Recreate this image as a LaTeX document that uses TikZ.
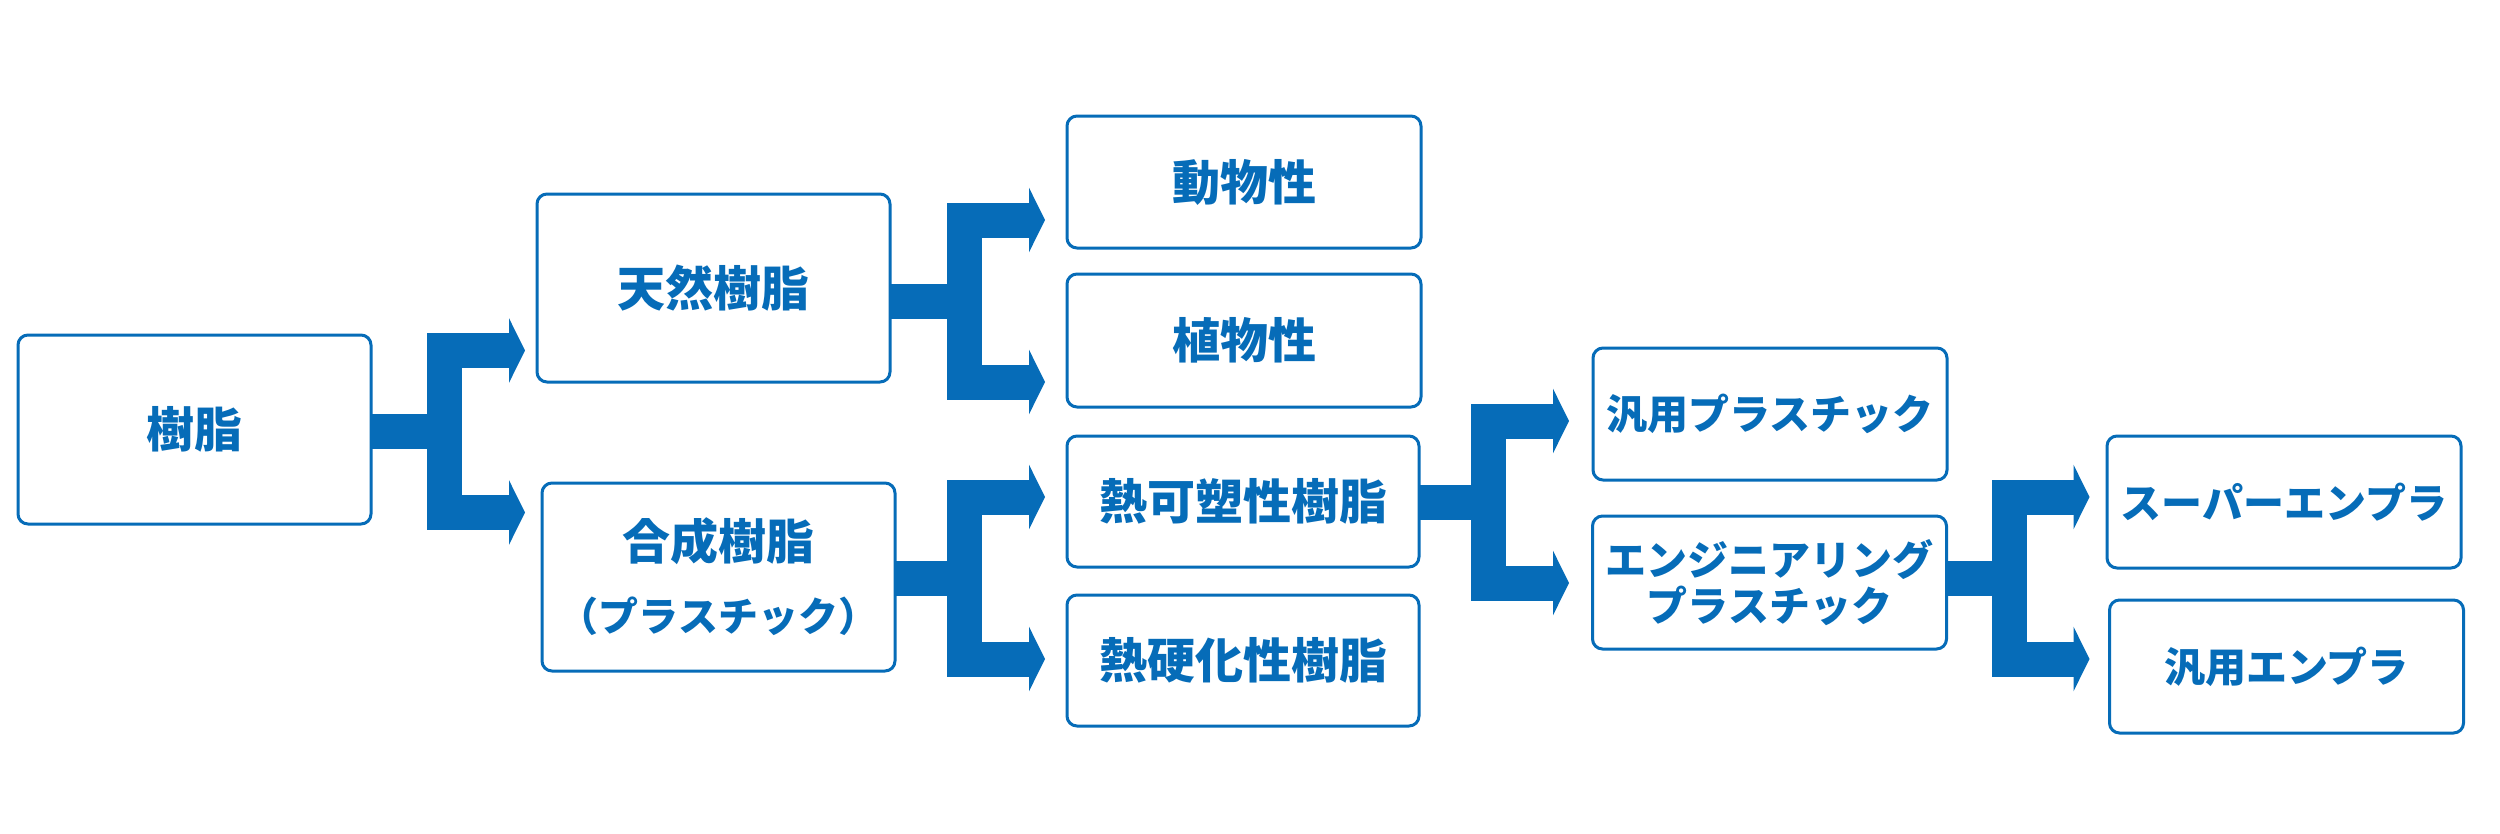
\documentclass[tikz,border=0pt]{standalone}
\usepackage{fontspec}
\newfontfamily\jpfont{Noto Sans CJK JP}
\usetikzlibrary{arrows.meta,calc}
\definecolor{resinblue}{RGB}{6,108,184}
\tikzset{
  kind/.style={draw=resinblue, line width=3pt, rounded corners=10pt, fill=white,
    text=resinblue, inner sep=0pt, outer sep=0pt, align=center,
    minimum width=353pt, minimum height=188pt,
    font=\jpfont\bfseries\fontsize{48}{58}\selectfont},
  subkind/.style={kind, minimum width=354pt, minimum height=132pt},
  katakana/.style={font=\jpfont\bfseries\fontsize{41}{46}\selectfont},
  trunk/.style={resinblue, line width=35pt},
  fork/.style={resinblue, line width=35pt, line join=miter,
    {Triangle[width=64pt,length=16pt]}-{Triangle[width=64pt,length=16pt]}},
}
% #1 source box, #2 shift of the stem, #3 length of the stem
\newcommand{\branch}[3]{%
  \draw[trunk] ($(#1.east)+(0,#2)$) -- ++(#3,0) coordinate (#1-fork);
  \draw[fork] ($(#1-fork)+(80.5,-81)$) -- ($(#1-fork)+(0,-81)$)
    -- ($(#1-fork)+(0,81)$) -- ($(#1-fork)+(80.5,81)$);
}
\begin{document}
\begin{tikzpicture}[x=1pt,y=-1pt]
  \useasboundingbox (0,0) rectangle (2500,833);

  % Drawing boxes of the first two levels
  \node[kind, minimum height=189pt] (jushi) at (194.5,429.5) {樹脂};
  \node[kind] (tennen) at (713.5,288) {天然樹脂};
  \node[kind] (gousei) at (718.5,577)
    {合成樹脂\\[14pt]{\fontsize{40}{48}\selectfont （プラスチック）}};

  % Drawing boxes of the third level
  \node[subkind] (doubutsu) at (1244,182) {動物性};
  \node[subkind, minimum height=133pt] (shokubutsu) at (1244,340.5) {植物性};
  \node[subkind, minimum width=352pt, minimum height=131pt] (netsukaso) at (1243,501.5) {熱可塑性樹脂};
  \node[subkind, minimum width=352pt, minimum height=131pt] (netsukouka) at (1243,660.5) {熱硬化性樹脂};

  % Drawing boxes of the plastics
  \node[subkind, katakana] (hanyoupura) at (1770,414) {汎用プラスチック};
  \node[subkind, katakana, minimum height=133pt] (engi) at (1769.5,582.5) {エンジニアリング\\プラスチック};
  \node[subkind, katakana] (super) at (2284,502) {スーパーエンプラ};
  \node[subkind, katakana, minimum height=133pt] (hanyouenpura) at (2286.5,666.5) {汎用エンプラ};

  % Drawing the branches
  \branch{jushi}{2}{73.5}
  \branch{tennen}{13}{74.5}
  \branch{gousei}{1}{69.5}
  \branch{netsukaso}{0.5}{69.5}
  \branch{engi}{-4.5}{62.5}
\end{tikzpicture}
\end{document}
